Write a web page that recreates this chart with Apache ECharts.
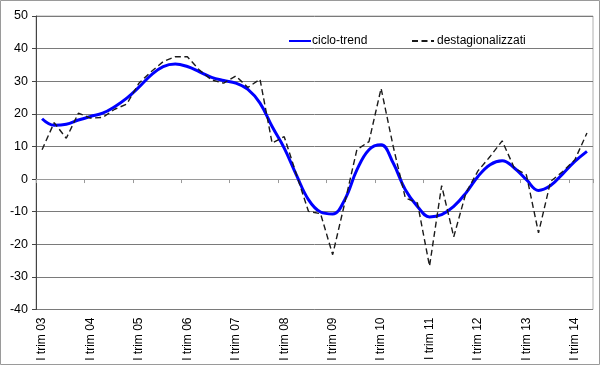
<!DOCTYPE html>
<html>
<head>
<meta charset="utf-8">
<script src="https://cdn.jsdelivr.net/npm/echarts@6/dist/echarts.min.js"></script>
<style>
html,body{margin:0;padding:0;background:#fff;}
#c{width:600px;height:365px;}
</style>
</head>
<body>
<div id="c"></div>
<script>
const years = ['03','04','05','06','07','08','09','10','11','12','13','14'];
const quarterNames = ['I','II','III','IV'];
const nQuarters = 46;
const categories = [];
for (let i = 0; i < nQuarters; i++) {
  categories.push(quarterNames[i % 4] + ' trim ' + years[Math.floor(i / 4)]);
}
const cicloTrend = [18.5, 16.5, 16.8, 18.1, 19.2, 20.2, 22.2, 24.8, 28.2, 31.9,
  34.5, 35.3, 34.5, 32.9, 31.2, 30.2, 29.4, 27.5, 23.3, 16.1,
  9.5, 1.3, -6.3, -10.1, -10.7, -6.3, 2.8, 9.0, 10.5, 4.9,
  -3.3, -8.4, -11.6, -10.9, -8.4, -4.3, 0.8, 4.4, 5.6, 3.4,
  -0.2, -3.5, -2.0, 1.6, 5.4, 8.5];
const destagionalizzati = [9.0, 17.3, 12.5, 20.2, 18.7, 18.9, 21.4, 23.0, 29.4, 32.9,
  36.0, 37.5, 37.5, 33.4, 30.4, 29.4, 31.6, 28.1, 30.6, 11.0,
  13.0, 1.5, -9.9, -10.6, -23.2, -7.3, 9.0, 11.5, 27.8, 10.0,
  -5.8, -7.3, -26.7, -2.0, -17.7, -4.3, 2.5, 6.9, 11.7, 3.4,
  1.3, -16.5, -0.7, 2.3, 5.9, 14.1];
const yTicks = [-40, -30, -20, -10, 0, 10, 20, 30, 40, 50];

const chart = echarts.init(document.getElementById('c'), null, {renderer: 'canvas'});
const font = 'Liberation Sans, Arial, sans-serif';
chart.setOption({
  animation: false,
  backgroundColor: '#fff',
  graphic: [{
    type: 'rect', silent: true, z: 100,
    shape: {x: 0.5, y: 0.5, width: 599, height: 364},
    style: {fill: 'none', stroke: '#9a9a9a', lineWidth: 1}
  }],
  grid: {
    left: 36, right: 7, top: 16, bottom: 55.5,
    show: true, borderColor: '#b0b0b0', borderWidth: 1
  },
  legend: [{
    data: ['ciclo-trend'], left: 283, top: 30, itemWidth: 22, itemHeight: 14, itemGap: 4,
    itemStyle: {opacity: 0},
    textStyle: {fontFamily: font, fontSize: 12, color: '#000', padding: [0, 0, 0, -4]}
  }, {
    data: ['destagionalizzati'], left: 406, top: 30, itemWidth: 22, itemHeight: 14, itemGap: 4,
    itemStyle: {opacity: 0},
    textStyle: {fontFamily: font, fontSize: 12, color: '#000', padding: [0, 0, 0, -2]}
  }],
  xAxis: [{
    type: 'category', data: categories, boundaryGap: true, position: 'bottom',
    axisLine: {show: false, onZero: false},
    axisTick: {show: false},
    splitLine: {show: false},
    axisLabel: {interval: 3, rotate: 90, margin: 8, fontFamily: font, fontSize: 12, color: '#000'}
  }, {
    type: 'category', data: categories, boundaryGap: true, position: 'bottom',
    axisLine: {show: true, onZero: true, lineStyle: {color: '#9a9a9a', width: 1}},
    axisTick: {show: true, interval: 3, length: 4, lineStyle: {color: '#9a9a9a'}},
    axisLabel: {show: false},
    splitLine: {show: false}
  }],
  yAxis: {
    type: 'value', min: yTicks[0], max: yTicks[yTicks.length - 1], interval: 10,
    axisLine: {show: true, lineStyle: {color: '#444', width: 1}},
    axisTick: {show: true, length: 4, lineStyle: {color: '#444'}},
    axisLabel: {margin: 8, fontFamily: font, fontSize: 12.5, color: '#000'},
    splitLine: {show: true, lineStyle: {color: '#7a7a7a', width: 1}}
  },
  series: [{
    name: 'ciclo-trend', type: 'line', data: cicloTrend, xAxisIndex: 0,
    smooth: 0.4, symbol: 'none', showSymbol: false,
    lineStyle: {color: '#0000ff', width: 3},
    itemStyle: {color: '#0000ff'}, z: 2
  }, {
    name: 'destagionalizzati', type: 'line', data: destagionalizzati, xAxisIndex: 0,
    smooth: false, symbol: 'none', showSymbol: false,
    lineStyle: {color: '#1a1a1a', width: 1.4, type: [6, 3.5]},
    itemStyle: {color: '#1a1a1a'}, z: 3
  }]
});
</script>
</body>
</html>
